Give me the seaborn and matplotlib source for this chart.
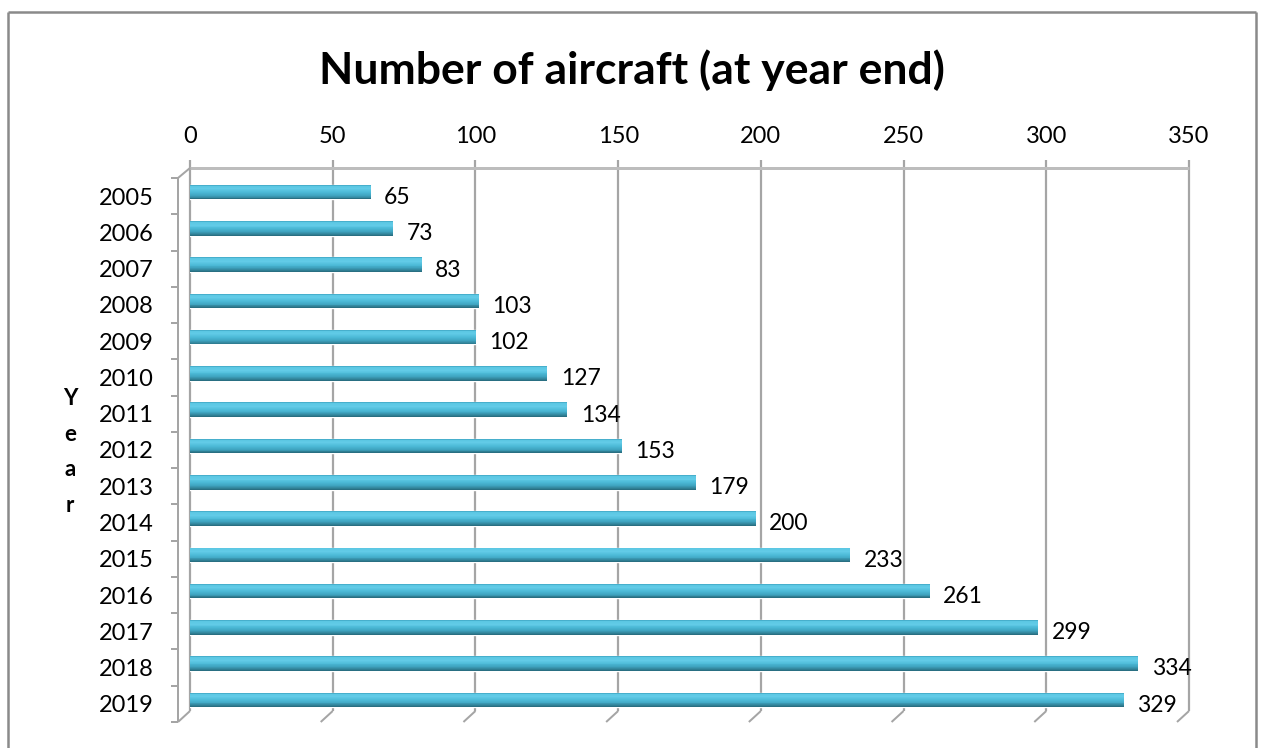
import numpy as np
import pandas as pd
import matplotlib
matplotlib.use("Agg")
import matplotlib.pyplot as plt
import matplotlib.transforms as mtransforms
from matplotlib.colors import to_rgb
from matplotlib.lines import Line2D
import seaborn as sns

# ---- data -------------------------------------------------------------
years = ["2005", "2006", "2007", "2008", "2009", "2010", "2011", "2012",
         "2013", "2014", "2015", "2016", "2017", "2018", "2019"]
aircraft = [65, 73, 83, 103, 102, 127, 134, 153, 179, 200, 233, 261, 299, 334, 329]
x_ticks = [0, 50, 100, 150, 200, 250, 300, 350]

title = "Number of aircraft (at year end)"
axis_label = "Year"

# ---- style ------------------------------------------------------------
sns.set_theme(style="white")
plt.rcParams["font.family"] = ["Lato", "DejaVu Sans"]

W, H = 1261, 748
DPI = 100
fig = plt.figure(figsize=(W / DPI, H / DPI), dpi=DPI)
fig.patch.set_facecolor("white")

# front plane of the 3-D plot area (pixels from top-left)
FX0, FX1 = 190, 1189
FY0, FY1 = 178, 722
DEPTH_X, DEPTH_Y = 12, 11       # offset between front plane and back wall

ax = fig.add_axes([FX0 / W, 1 - FY1 / H, (FX1 - FX0) / W, (FY1 - FY0) / H])
ax.set_zorder(2)

df = pd.DataFrame({"Year": years, "Aircraft": aircraft})
bar_w = 0.40
sns.barplot(data=df, x="Aircraft", y="Year", orient="h", color="#4BBAD7",
            saturation=1, width=bar_w, ax=ax, zorder=3)

# cylinder shading: a smooth ramp of thin strips across each bar's height
pos = np.arange(len(years))
half = bar_w / 2
stops = [0.0, 0.08, 0.28, 0.50, 0.72, 0.90, 1.0]
ramp = ["#3AA0BD", "#5CC7E3", "#62CBE7", "#4DBBD8", "#3FA4C0", "#307F95", "#26677A"]
ramp_rgb = np.array([to_rgb(c) for c in ramp])
n_strips = 16
edges = np.linspace(-half, half, n_strips + 1)
for k in range(n_strips):
    f = (k + 0.5) / n_strips
    col = [np.interp(f, stops, ramp_rgb[:, c]) for c in range(3)]
    ax.barh(pos + (edges[k] + edges[k + 1]) / 2, aircraft,
            height=(edges[k + 1] - edges[k]) * 1.02, color=col,
            linewidth=0, zorder=4)

# bars sit slightly forward in depth
shift = mtransforms.ScaledTranslation(-5 / DPI, 4 / DPI, fig.dpi_scale_trans)
for p in ax.patches:
    p.set_transform(ax.transData + shift)

# value labels
for i, v in enumerate(aircraft):
    ax.annotate(str(v), xy=(v, i), xytext=(6, -1), textcoords="offset points",
                ha="left", va="center", fontsize=16.5, color="black", zorder=6)

ax.set_xlim(0, 350)
ax.set_ylim(len(years) - 0.5, -0.5)
ax.set_xticks(x_ticks)
ax.set_xticklabels([str(t) for t in x_ticks])
ax.xaxis.tick_top()
ax.tick_params(axis="x", length=0, pad=22, labelsize=17, colors="black")
ax.tick_params(axis="y", length=0, pad=26, labelsize=17, colors="black")
ax.set_xlabel("")
ax.set_ylabel("")
for s in ax.spines.values():
    s.set_visible(False)
ax.patch.set_alpha(0)

# ---- 3-D walls, drawn in pixel space behind the bars -------------------
ident = mtransforms.IdentityTransform()
grid_c = "#A5A5A5"


def px(x, y):
    """image-pixel (top-left origin) to display coordinates"""
    return x, H - y


def seg(x0, y0, x1, y1, color=grid_c, lw=2.0, z=1):
    a = px(x0, y0)
    b = px(x1, y1)
    fig.add_artist(Line2D([a[0], b[0]], [a[1], b[1]], color=color,
                          linewidth=lw * 72 / DPI, transform=ident,
                          solid_capstyle="butt", zorder=z))


back_top = FY0 - DEPTH_Y + 1
back_bot = FY1 - DEPTH_Y
for t in x_ticks:
    xp = ax.transData.transform((t, 0))[0]
    seg(xp, back_top - 8, xp, back_bot, lw=2.2)
    seg(xp, back_bot, xp - DEPTH_X, FY1, lw=2.0)
# top edge of back wall
x_left = ax.transData.transform((x_ticks[0], 0))[0]
x_right = ax.transData.transform((x_ticks[-1], 0))[0]
seg(x_left, back_top, x_right, back_top, color="#BDBDBD", lw=3.0)

# left side of the front plane with category ticks
fx = x_left - DEPTH_X
seg(fx, FY0, fx, FY1, lw=2.0)
seg(fx, FY0, x_left, back_top, lw=2.0)
for k in range(len(years) + 1):
    yp = H - ax.transData.transform((0, k - 0.5))[1]
    seg(fx - 7, yp, fx, yp, lw=2.0)

# chart frame
frame_c = "#8A8A8A"
seg(7.5, H + 2, 7.5, 11.5, color=frame_c, lw=2.5, z=0)
seg(7.5, 11.5, 1255.5, 11.5, color=frame_c, lw=2.5, z=0)
seg(1255.5, 11.5, 1255.5, H + 2, color=frame_c, lw=2.5, z=0)

# ---- titles ------------------------------------------------------------
fig.text(632 / W, 1 - 70 / H, title, ha="center", va="center",
         fontsize=32, fontweight="bold", color="black")
fig.text(70 / W, 1 - 452 / H, "\n".join(axis_label), ha="center", va="center",
         fontsize=16, fontweight="bold", color="black", linespacing=1.85)

fig.savefig("out.png", dpi=DPI, facecolor="white")
